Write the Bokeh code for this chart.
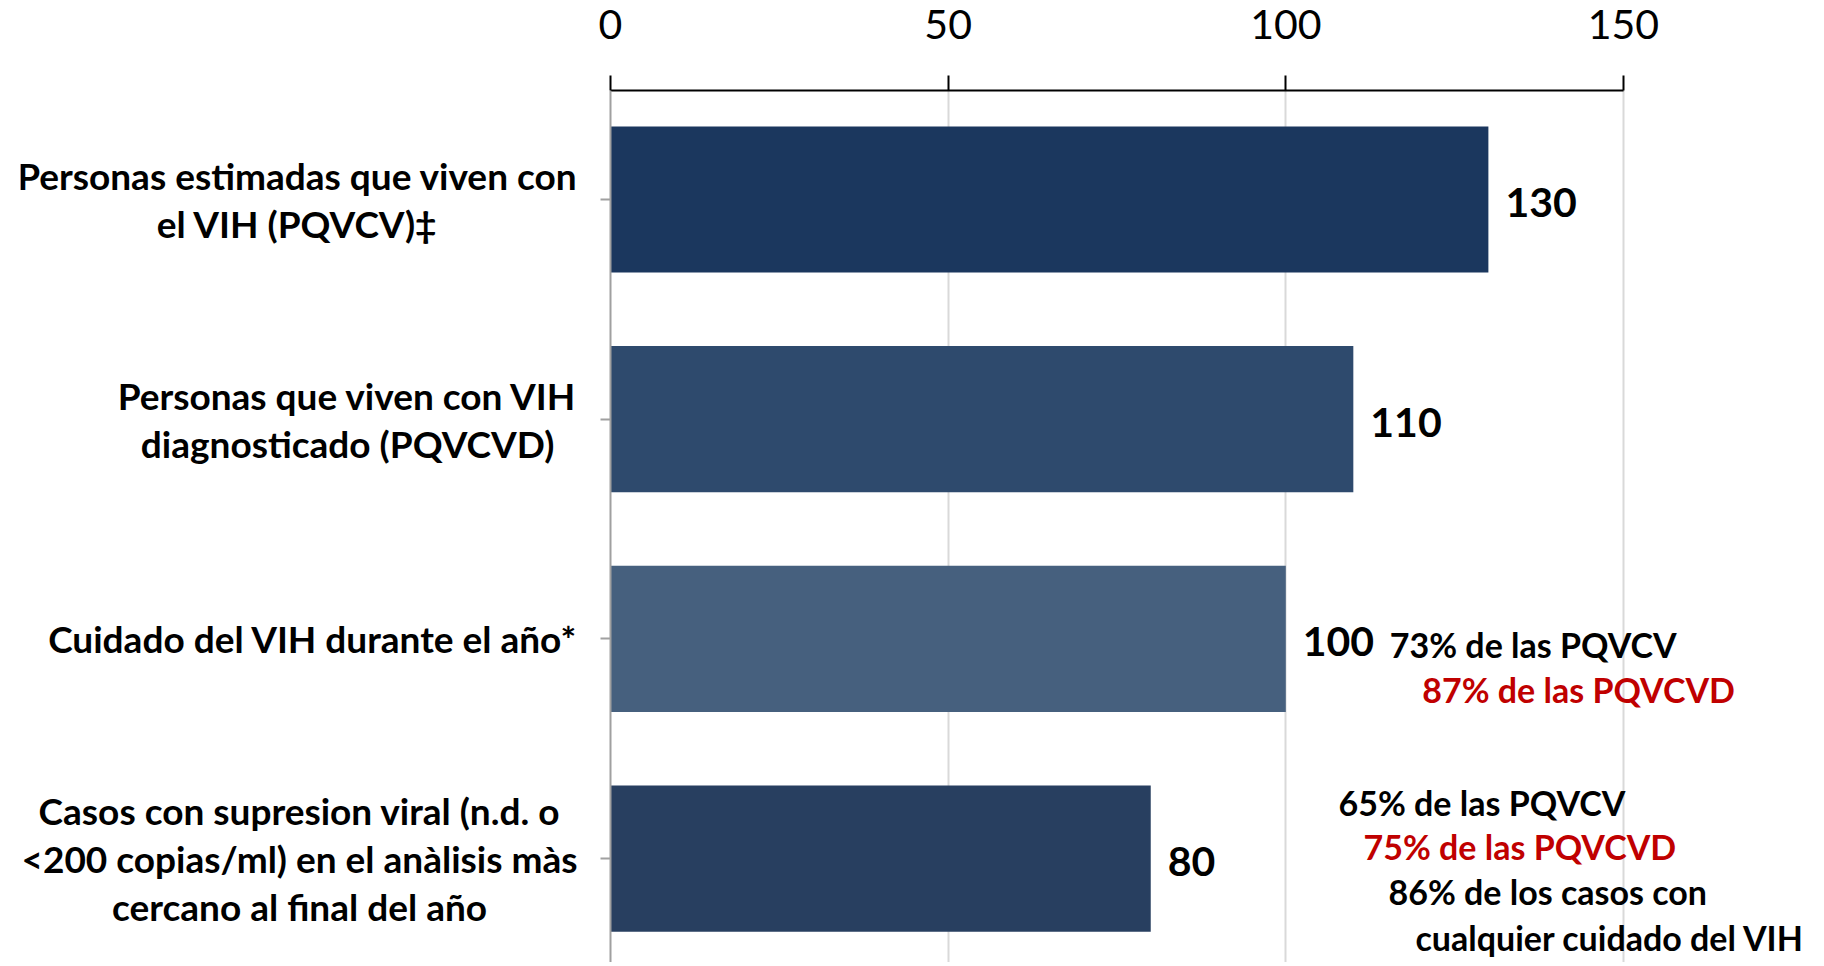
from bokeh.plotting import figure
from bokeh.models import ColumnDataSource, FixedTicker, Range1d
from bokeh.core.properties import value
from bokeh.embed import file_html
from bokeh.resources import INLINE

# ---- data ----
categories = [
    "Personas estimadas que viven con\nel VIH (PQVCV)\u2021",
    "Personas que viven con VIH\ndiagnosticado (PQVCVD)",
    "Cuidado del VIH durante el a\u00f1o*",
    "Casos con supresion viral (n.d. o\n<200 copias/ml) en el an\u00e0lisis m\u00e0s\ncercano al final del a\u00f1o",
]
values = [130, 110, 100, 80]
x_ticks = [0, 50, 100, 150]

annot_text = [
    "73% de las PQVCV",
    "87% de las PQVCVD",
    "65% de las PQVCV",
    "75% de las PQVCVD",
    "86% de los casos con",
    "cualquier cuidado del VIH",
]
annot_x = [115.4, 120.2, 107.8, 111.5, 115.2, 119.2]
annot_y = [2.026, 2.231, 2.745, 2.945, 3.150, 3.360]
annot_color = ["#000000", "#C00000", "#000000", "#C00000", "#000000", "#000000"]

bar_colors = ["#1B375E", "#2E4A6D", "#46607E", "#283F60"]

FONT = "Lato"

idx = list(range(len(values)))
src = ColumnDataSource(dict(y=idx, v=values, lab=[str(v) for v in values], c=bar_colors))
asrc = ColumnDataSource(dict(x=annot_x, y=annot_y, t=annot_text, c=annot_color))
csrc = ColumnDataSource(dict(x=[0] * len(idx), y=idx, t=categories))

# frame spans the figure; x=0 sits 590 px right of the frame's left edge
p = figure(width=1820, height=962, output_backend="svg", toolbar_location=None,
           x_range=Range1d(-87.37, 179.18), y_range=Range1d(3.473, -0.496),
           x_axis_location="above", min_border_left=20, min_border_top=90,
           min_border_right=0, min_border_bottom=0)
p.outline_line_color = None
p.background_fill_color = "white"

# grid
p.xgrid.ticker = FixedTicker(ticks=[50, 100, 150])
p.xgrid.grid_line_color = "#D9D9D9"
p.xgrid.grid_line_width = 2
p.xgrid.bounds = (0, 150)
p.ygrid.grid_line_color = None

# bars
p.hbar(y="y", right="v", left=0, height=0.665, fill_color="c", line_color=None, source=src)

# value labels
p.text(x="v", y="y", text="lab", source=src, x_offset=17, y_offset=3, text_baseline="middle",
       text_align="left", text_font=value(FONT), text_font_style="bold",
       text_font_size="41px", text_color="black")

# annotations
p.text(x="x", y="y", text="t", source=asrc, text_baseline="middle",
       text_align="left", text_font=value(FONT), text_font_style="bold",
       text_font_size="34px", text_color="c")

# category labels: block right-anchored next to the axis, lines centred
p.text(x="x", y="y", text="t", source=csrc, x_offset=-33, anchor="center_right",
       text_align="center", text_baseline="middle",
       text_font=value(FONT), text_font_style="bold", text_font_size="37px",
       text_color="black", text_line_height=1.06)

# top axis
xa = p.xaxis[0]
xa.ticker = FixedTicker(ticks=x_ticks)
xa.bounds = (0, 150)
xa.axis_line_color = "black"
xa.axis_line_width = 2
xa.major_tick_line_color = "black"
xa.major_tick_line_width = 2
xa.major_tick_out = 15
xa.major_tick_in = 0
xa.minor_tick_line_color = None
xa.major_label_text_font = FONT
xa.major_label_text_font_size = "41px"
xa.major_label_text_color = "black"
xa.major_label_standoff = 37

# left axis at x = 0 (line and ticks only)
ya = p.yaxis[0]
ya.fixed_location = 0
ya.ticker = FixedTicker(ticks=idx)
ya.major_label_text_color = None
ya.major_label_text_font_size = "1px"
ya.major_label_standoff = 0
ya.axis_line_color = "#A0A0A0"
ya.axis_line_width = 2
ya.major_tick_line_color = "#A0A0A0"
ya.major_tick_line_width = 2
ya.major_tick_out = 10
ya.major_tick_in = 0
ya.minor_tick_line_color = None

open("out.html", "w").write(file_html(p, INLINE))
